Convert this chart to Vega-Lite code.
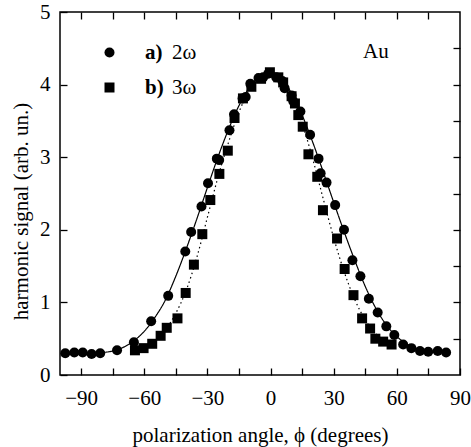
{
  "$schema": "https://vega.github.io/schema/vega-lite/v6.json",
  "width": 400,
  "height": 363,
  "autosize": {"type": "none"},
  "padding": {"left": 60, "top": 12, "right": 11, "bottom": 72},
  "background": "white",
  "config": {
    "view": {"stroke": "black", "strokeWidth": 1.5, "fill": null},
    "font": "Liberation Serif",
    "axis": {"grid": false, "domain": false, "labelFlush": false, "labelOverlap": false, "zindex": 1}
  },
  "datasets": {
    "obs": [
      {"phi": -97.5, "signal": 0.30, "harmonic": "2ω"},
      {"phi": -93.2, "signal": 0.31, "harmonic": "2ω"},
      {"phi": -89.2, "signal": 0.31, "harmonic": "2ω"},
      {"phi": -85.0, "signal": 0.29, "harmonic": "2ω"},
      {"phi": -80.9, "signal": 0.30, "harmonic": "2ω"},
      {"phi": -72.9, "signal": 0.34, "harmonic": "2ω"},
      {"phi": -64.9, "signal": 0.45, "harmonic": "2ω"},
      {"phi": -56.7, "signal": 0.74, "harmonic": "2ω"},
      {"phi": -48.6, "signal": 1.09, "harmonic": "2ω"},
      {"phi": -40.5, "signal": 1.70, "harmonic": "2ω"},
      {"phi": -37.7, "signal": 1.97, "harmonic": "2ω"},
      {"phi": -32.8, "signal": 2.32, "harmonic": "2ω"},
      {"phi": -29.7, "signal": 2.64, "harmonic": "2ω"},
      {"phi": -25.5, "signal": 2.98, "harmonic": "2ω"},
      {"phi": -24.4, "signal": 2.96, "harmonic": "2ω"},
      {"phi": -19.5, "signal": 3.37, "harmonic": "2ω"},
      {"phi": -17.3, "signal": 3.59, "harmonic": "2ω"},
      {"phi": -13.3, "signal": 3.81, "harmonic": "2ω"},
      {"phi": -11.8, "signal": 3.83, "harmonic": "2ω"},
      {"phi": -9.6, "signal": 4.01, "harmonic": "2ω"},
      {"phi": -5.7, "signal": 4.09, "harmonic": "2ω"},
      {"phi": -3.5, "signal": 4.10, "harmonic": "2ω"},
      {"phi": -1.1, "signal": 4.15, "harmonic": "2ω"},
      {"phi": 2.7, "signal": 4.10, "harmonic": "2ω"},
      {"phi": 5.6, "signal": 4.05, "harmonic": "2ω"},
      {"phi": 6.7, "signal": 3.95, "harmonic": "2ω"},
      {"phi": 10.0, "signal": 3.85, "harmonic": "2ω"},
      {"phi": 10.8, "signal": 3.77, "harmonic": "2ω"},
      {"phi": 14.2, "signal": 3.63, "harmonic": "2ω"},
      {"phi": 18.8, "signal": 3.31, "harmonic": "2ω"},
      {"phi": 22.8, "signal": 2.98, "harmonic": "2ω"},
      {"phi": 23.8, "signal": 2.78, "harmonic": "2ω"},
      {"phi": 26.6, "signal": 2.65, "harmonic": "2ω"},
      {"phi": 30.7, "signal": 2.34, "harmonic": "2ω"},
      {"phi": 34.9, "signal": 2.00, "harmonic": "2ω"},
      {"phi": 38.9, "signal": 1.58, "harmonic": "2ω"},
      {"phi": 42.7, "signal": 1.36, "harmonic": "2ω"},
      {"phi": 46.7, "signal": 1.05, "harmonic": "2ω"},
      {"phi": 50.9, "signal": 0.86, "harmonic": "2ω"},
      {"phi": 55.0, "signal": 0.67, "harmonic": "2ω"},
      {"phi": 58.8, "signal": 0.55, "harmonic": "2ω"},
      {"phi": 63.0, "signal": 0.42, "harmonic": "2ω"},
      {"phi": 66.9, "signal": 0.37, "harmonic": "2ω"},
      {"phi": 71.0, "signal": 0.33, "harmonic": "2ω"},
      {"phi": 74.9, "signal": 0.32, "harmonic": "2ω"},
      {"phi": 79.4, "signal": 0.33, "harmonic": "2ω"},
      {"phi": 83.4, "signal": 0.31, "harmonic": "2ω"},
      {"phi": -64.4, "signal": 0.34, "harmonic": "3ω"},
      {"phi": -60.3, "signal": 0.37, "harmonic": "3ω"},
      {"phi": -56.2, "signal": 0.43, "harmonic": "3ω"},
      {"phi": -52.2, "signal": 0.54, "harmonic": "3ω"},
      {"phi": -49.3, "signal": 0.65, "harmonic": "3ω"},
      {"phi": -44.2, "signal": 0.78, "harmonic": "3ω"},
      {"phi": -40.3, "signal": 1.13, "harmonic": "3ω"},
      {"phi": -36.4, "signal": 1.52, "harmonic": "3ω"},
      {"phi": -32.4, "signal": 1.94, "harmonic": "3ω"},
      {"phi": -28.6, "signal": 2.41, "harmonic": "3ω"},
      {"phi": -24.3, "signal": 2.77, "harmonic": "3ω"},
      {"phi": -20.3, "signal": 3.09, "harmonic": "3ω"},
      {"phi": -17.1, "signal": 3.54, "harmonic": "3ω"},
      {"phi": -13.1, "signal": 3.81, "harmonic": "3ω"},
      {"phi": -9.1, "signal": 3.97, "harmonic": "3ω"},
      {"phi": -4.5, "signal": 4.08, "harmonic": "3ω"},
      {"phi": -0.3, "signal": 4.17, "harmonic": "3ω"},
      {"phi": 3.7, "signal": 4.10, "harmonic": "3ω"},
      {"phi": 6.0, "signal": 4.03, "harmonic": "3ω"},
      {"phi": 10.0, "signal": 3.84, "harmonic": "3ω"},
      {"phi": 11.6, "signal": 3.74, "harmonic": "3ω"},
      {"phi": 13.2, "signal": 3.58, "harmonic": "3ω"},
      {"phi": 15.3, "signal": 3.42, "harmonic": "3ω"},
      {"phi": 18.0, "signal": 3.04, "harmonic": "3ω"},
      {"phi": 22.2, "signal": 2.73, "harmonic": "3ω"},
      {"phi": 24.9, "signal": 2.27, "harmonic": "3ω"},
      {"phi": 31.6, "signal": 1.88, "harmonic": "3ω"},
      {"phi": 35.2, "signal": 1.46, "harmonic": "3ω"},
      {"phi": 39.4, "signal": 1.10, "harmonic": "3ω"},
      {"phi": 43.5, "signal": 0.78, "harmonic": "3ω"},
      {"phi": 47.3, "signal": 0.64, "harmonic": "3ω"},
      {"phi": 49.8, "signal": 0.50, "harmonic": "3ω"},
      {"phi": 53.5, "signal": 0.46, "harmonic": "3ω"},
      {"phi": 57.5, "signal": 0.42, "harmonic": "3ω"}
    ],
    "fit": [
      {"phi": -80, "signal": 0.31, "curve": "2ω"},
      {"phi": -75, "signal": 0.33, "curve": "2ω"},
      {"phi": -70, "signal": 0.38, "curve": "2ω"},
      {"phi": -65, "signal": 0.47, "curve": "2ω"},
      {"phi": -60, "signal": 0.60, "curve": "2ω"},
      {"phi": -55, "signal": 0.79, "curve": "2ω"},
      {"phi": -50, "signal": 1.03, "curve": "2ω"},
      {"phi": -45, "signal": 1.36, "curve": "2ω"},
      {"phi": -40, "signal": 1.74, "curve": "2ω"},
      {"phi": -35, "signal": 2.15, "curve": "2ω"},
      {"phi": -30, "signal": 2.58, "curve": "2ω"},
      {"phi": -25, "signal": 3.00, "curve": "2ω"},
      {"phi": -20, "signal": 3.38, "curve": "2ω"},
      {"phi": -15, "signal": 3.71, "curve": "2ω"},
      {"phi": -10, "signal": 3.96, "curve": "2ω"},
      {"phi": -5, "signal": 4.11, "curve": "2ω"},
      {"phi": 0, "signal": 4.15, "curve": "2ω"},
      {"phi": 5, "signal": 4.08, "curve": "2ω"},
      {"phi": 10, "signal": 3.88, "curve": "2ω"},
      {"phi": 15, "signal": 3.58, "curve": "2ω"},
      {"phi": 20, "signal": 3.21, "curve": "2ω"},
      {"phi": 25, "signal": 2.80, "curve": "2ω"},
      {"phi": 30, "signal": 2.38, "curve": "2ω"},
      {"phi": 35, "signal": 1.97, "curve": "2ω"},
      {"phi": 40, "signal": 1.58, "curve": "2ω"},
      {"phi": 45, "signal": 1.22, "curve": "2ω"},
      {"phi": 50, "signal": 0.92, "curve": "2ω"},
      {"phi": 55, "signal": 0.69, "curve": "2ω"},
      {"phi": 60, "signal": 0.53, "curve": "2ω"},
      {"phi": 65, "signal": 0.42, "curve": "2ω"},
      {"phi": 70, "signal": 0.36, "curve": "2ω"},
      {"phi": 75, "signal": 0.33, "curve": "2ω"},
      {"phi": 80, "signal": 0.31, "curve": "2ω"},
      {"phi": -66, "signal": 0.32, "curve": "3ω"},
      {"phi": -60, "signal": 0.37, "curve": "3ω"},
      {"phi": -55, "signal": 0.46, "curve": "3ω"},
      {"phi": -50, "signal": 0.62, "curve": "3ω"},
      {"phi": -45, "signal": 0.85, "curve": "3ω"},
      {"phi": -40, "signal": 1.17, "curve": "3ω"},
      {"phi": -35, "signal": 1.62, "curve": "3ω"},
      {"phi": -30, "signal": 2.17, "curve": "3ω"},
      {"phi": -25, "signal": 2.72, "curve": "3ω"},
      {"phi": -20, "signal": 3.20, "curve": "3ω"},
      {"phi": -15, "signal": 3.62, "curve": "3ω"},
      {"phi": -10, "signal": 3.93, "curve": "3ω"},
      {"phi": -5, "signal": 4.12, "curve": "3ω"},
      {"phi": 0, "signal": 4.16, "curve": "3ω"},
      {"phi": 5, "signal": 4.08, "curve": "3ω"},
      {"phi": 10, "signal": 3.85, "curve": "3ω"},
      {"phi": 15, "signal": 3.47, "curve": "3ω"},
      {"phi": 20, "signal": 2.98, "curve": "3ω"},
      {"phi": 25, "signal": 2.43, "curve": "3ω"},
      {"phi": 30, "signal": 1.89, "curve": "3ω"},
      {"phi": 35, "signal": 1.42, "curve": "3ω"},
      {"phi": 40, "signal": 1.04, "curve": "3ω"},
      {"phi": 45, "signal": 0.76, "curve": "3ω"},
      {"phi": 50, "signal": 0.57, "curve": "3ω"},
      {"phi": 55, "signal": 0.46, "curve": "3ω"},
      {"phi": 58, "signal": 0.42, "curve": "3ω"}
    ]
  },
  "layer": [
    {
      "data": {"name": "fit"},
      "mark": {"type": "line", "color": "black", "strokeWidth": 1.2, "interpolate": "monotone"},
      "encoding": {
        "x": {
          "field": "phi", "type": "quantitative",
          "scale": {"domain": [-100, 90], "nice": false, "zero": false},
          "axis": {"orient": "top", "zindex": 1, "values": [-90, -75, -60, -45, -30, -15, 0, 15, 30, 45, 60, 75], "labels": false, "domain": false, "grid": false, "ticks": true, "tickSize": 7, "offset": -7, "tickColor": "black", "tickWidth": 1.3, "tickOpacity": 1, "title": null}
        },
        "y": {
          "field": "signal", "type": "quantitative",
          "scale": {"domain": [0, 5], "nice": false, "zero": false},
          "axis": {"orient": "right", "zindex": 1, "values": [0.5, 1, 1.5, 2, 2.5, 3, 3.5, 4, 4.5], "labels": false, "domain": false, "grid": false, "ticks": true, "tickSize": 7, "offset": -7, "tickColor": "black", "tickWidth": 1.3, "tickOpacity": 1, "title": null}
        },
        "strokeDash": {
          "field": "curve", "type": "nominal",
          "scale": {"domain": ["2ω", "3ω"], "range": [[1, 0], [1.5, 3]]},
          "legend": {"orient": "none", "legendX": 91, "legendY": 30, "title": null, "symbolOpacity": 0, "symbolSize": 1, "symbolStrokeWidth": 0, "labelOffset": 0, "rowPadding": 13, "padding": 0, "labelFont": "Liberation Serif", "labelFontSize": 21, "labelColor": "black"}
        }
      }
    },
    {
      "data": {"name": "obs"},
      "mark": {"type": "point", "filled": true, "opacity": 1, "color": "black", "size": 100, "strokeWidth": 0},
      "encoding": {
        "x": {
          "field": "phi", "type": "quantitative",
          "scale": {"domain": [-100, 90], "nice": false, "zero": false},
          "axis": {"orient": "bottom", "zindex": 1, "values": [-90, -75, -60, -45, -30, -15, 0, 15, 30, 45, 60, 75, 90], "format": "d", "labelExpr": "datum.value % 30 === 0 ? datum.label : ''", "ticks": true, "tickSize": 7, "offset": -7, "tickColor": "black", "tickWidth": 1.3, "tickOpacity": 1, "domain": false, "grid": false, "labelPadding": 12, "labelFont": "Liberation Serif", "labelFontSize": 21, "labelColor": "black", "labelFlush": false, "labelOverlap": false, "title": "polarization angle, ϕ (degrees)", "titleFont": "Liberation Serif", "titleFontSize": 21, "titleFontWeight": "normal", "titleColor": "black", "titlePadding": 16}
        },
        "y": {
          "field": "signal", "type": "quantitative",
          "scale": {"domain": [0, 5], "nice": false, "zero": false},
          "axis": {"orient": "left", "zindex": 1, "values": [0, 0.5, 1, 1.5, 2, 2.5, 3, 3.5, 4, 4.5, 5], "format": "d", "labelExpr": "datum.value % 1 === 0 ? datum.label : ''", "ticks": true, "tickSize": 7, "offset": -7, "tickColor": "black", "tickWidth": 1.3, "tickOpacity": 1, "domain": false, "grid": false, "labelPadding": 10, "labelFont": "Liberation Serif", "labelFontSize": 21, "labelColor": "black", "labelOverlap": false, "title": "harmonic signal (arb. un.)", "titleFont": "Liberation Serif", "titleFontSize": 21, "titleFontWeight": "normal", "titleColor": "black", "titleX": -46, "titleY": 199, "titleBaseline": "middle"}
        },
        "shape": {
          "field": "harmonic", "type": "nominal",
          "scale": {"domain": ["2ω", "3ω"], "range": ["circle", "square"]},
          "legend": {"orient": "none", "legendX": 39, "legendY": 30, "title": null, "labelExpr": "datum.label == '2ω' ? 'a)' : 'b)'", "labelFont": "Liberation Serif", "labelFontSize": 21, "labelColor": "black", "labelFontWeight": "bold", "symbolSize": 100, "symbolFillColor": "black", "symbolStrokeWidth": 0, "symbolOpacity": 1, "labelOffset": 25, "rowPadding": 13, "padding": 0}
        }
      }
    },
    {
      "data": {"values": [{"label": "Au"}]},
      "mark": {"type": "text", "fontSize": 21, "font": "Liberation Serif", "color": "black", "align": "center", "baseline": "middle"},
      "encoding": {
        "text": {"field": "label", "type": "nominal"},
        "x": {"datum": 50, "type": "quantitative", "scale": {"domain": [-100, 90], "nice": false, "zero": false}, "axis": null},
        "y": {"datum": 4.45, "type": "quantitative", "scale": {"domain": [0, 5], "nice": false, "zero": false}, "axis": null}
      }
    }
  ],
  "resolve": {
    "axis": {"x": "independent", "y": "independent"},
    "legend": {"shape": "independent", "strokeDash": "independent"}
  }
}
